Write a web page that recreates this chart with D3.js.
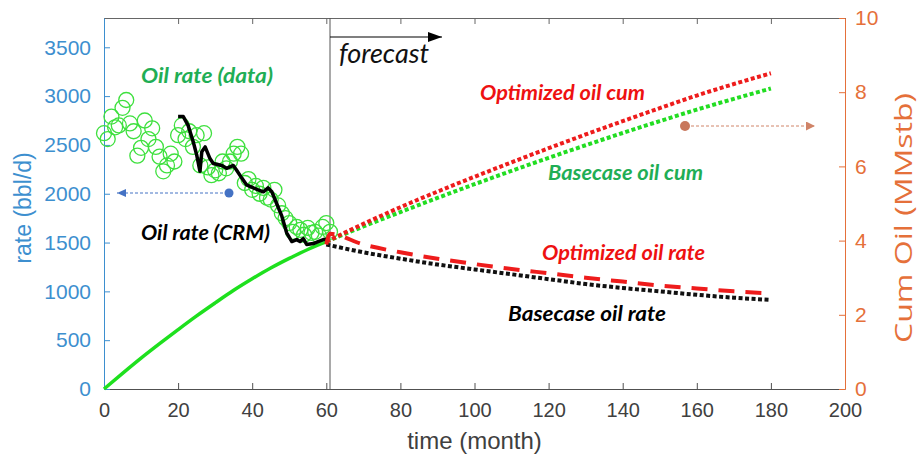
<!DOCTYPE html>
<html>
<head>
<meta charset="utf-8">
<script src="https://cdn.jsdelivr.net/npm/d3@7"></script>
<style>
  html, body { margin: 0; padding: 0; background: #fff; }
  svg { display: block; }
  .lbl { font-family: Lato, "Open Sans", sans-serif; font-weight: 700; font-style: italic; }
  .tick text { font-family: "Liberation Sans", Arial, sans-serif; }
</style>
</head>
<body>
<svg id="chart" width="920" height="455"></svg>
<script>
// Observed monthly oil rate (bbl/d)
const obsMonth = [0,1,2,3,4,5,6,7,8,9,10,11,12,13,14,15,16,17,18,19,20,21,22,23,24,25,26,27,28,29,30,
  31,32,33,34,35,36,37,38,39,40,41,42,43,44,45,46,47,48,49,50,51,52,53,54,55,56,57,58,59,60,61];
const obsRate = [2620,2560,2790,2680,2700,2880,2960,2720,2640,2390,2470,2750,2560,2670,2480,2380,2230,2290,2410,2330,
  2600,2700,2560,2640,2480,2600,2290,2620,2270,2190,2240,2210,2330,2260,2330,2410,2480,2410,2110,2150,
  2040,2080,2000,2060,1960,1940,2040,1880,1800,1750,1700,1610,1660,1630,1580,1650,1600,1610,1570,1660,1700,1610];

// CRM history-matched oil rate (bbl/d)
const crmMonth = [20.0,21.4,22.7,24.1,25.0,25.9,26.4,27.3,28.6,29.5,31.8,33.1,34.9,35.8,37.2,38.5,40.3,41.6,
  43.0,44.3,45.3,46.6,48.0,49.3,50.7,52.0,52.9,53.8,54.7,56.5,57.8,59.2,60.5];
const crmRate = [2790,2790,2700,2530,2400,2230,2430,2480,2360,2310,2290,2260,2290,2240,2160,2090,2060,2040,
  2020,2060,2020,1900,1770,1600,1510,1530,1510,1540,1480,1490,1510,1530,1530];

// Historical cumulative oil (MMstb)
const histCumMonth = [0,5,10,15,20,25,30,35,40,45,50,55,60];
const histCum = [0,0.42,0.83,1.22,1.60,1.97,2.32,2.66,2.97,3.26,3.52,3.76,3.97];

// Forecast period
const fcMonth = [60,70,80,90,100,110,120,130,140,150,160,170,180];
const baseRate = [1480,1400,1335,1275,1225,1175,1125,1075,1035,1000,965,935,912];
const baseCum = [3.97,4.38,4.77,5.15,5.52,5.88,6.23,6.57,6.90,7.22,7.53,7.82,8.10];
const optCum = [3.97,4.45,4.90,5.32,5.72,6.11,6.49,6.86,7.22,7.57,7.91,8.22,8.51];
const optRateMonth = [60,61,70,80,90,100,110,120,130,140,150,160,170,180];
const optRate = [1480,1590,1480,1400,1335,1280,1230,1185,1140,1100,1060,1030,1000,980];

// Axis ticks
const xTicks = [0,20,40,60,80,100,120,140,160,180,200];
const rateTicks = [0,500,1000,1500,2000,2500,3000,3500];
const cumTicks = [0,2,4,6,8,10];
const forecastStart = 61;

const svg = d3.select("#chart");
const L = 104, R = 845, T = 18, B = 389;
const blue = "#3d8fcf", orange = "#e5703a", grey = "#505050";

const x = d3.scaleLinear().domain([0, 200]).range([L, R]);
const yL = d3.scaleLinear().domain([0, 3800]).range([B, T]);
const yR = d3.scaleLinear().domain([0, 10]).range([B, T]);

// Top border with inward ticks
svg.append("g").attr("transform", `translate(0,${T})`)
  .call(d3.axisTop(x).tickValues(xTicks).tickSizeInner(-6).tickSizeOuter(0).tickFormat(""))
  .call(g => g.selectAll("path,line").attr("stroke", "#666"));

// Bottom axis
svg.append("g").attr("transform", `translate(0,${B})`)
  .call(d3.axisBottom(x).tickValues(xTicks).tickSizeInner(-6).tickSizeOuter(0).tickPadding(14))
  .call(g => g.selectAll("path,line").attr("stroke", grey))
  .call(g => g.selectAll("text").attr("fill", "#404040").attr("font-size", 20));

// Left axis (rate)
svg.append("g").attr("transform", `translate(${L},0)`)
  .call(d3.axisLeft(yL).tickValues(rateTicks).tickSizeInner(-6).tickSizeOuter(0).tickPadding(13).tickFormat(d3.format("d")))
  .call(g => g.selectAll("path,line").attr("stroke", blue))
  .call(g => g.selectAll("text").attr("fill", blue).attr("font-size", 21));

// Right axis (cumulative)
svg.append("g").attr("transform", `translate(${R},0)`)
  .call(d3.axisRight(yR).tickValues(cumTicks).tickSizeInner(-6).tickSizeOuter(0).tickPadding(10))
  .call(g => g.selectAll("path,line").attr("stroke", orange))
  .call(g => g.selectAll("text").attr("fill", orange).attr("font-size", 21));

// Axis titles
svg.append("text").attr("x", x(100)).attr("y", 449).attr("text-anchor", "middle")
  .attr("font-family", "'Liberation Sans', Arial, sans-serif").attr("font-size", 24).attr("fill", "#404040")
  .text("time (month)");
svg.append("text").attr("transform", `translate(31,208) rotate(-90)`).attr("text-anchor", "middle")
  .attr("font-family", "'Liberation Sans', Arial, sans-serif").attr("font-size", 23).attr("fill", blue)
  .text("rate (bbl/d)");
svg.append("text").attr("transform", `translate(912,218) rotate(-90)`).attr("text-anchor", "middle")
  .attr("font-family", "'Open Sans', sans-serif").attr("font-size", 23).attr("fill", orange)
  .attr("textLength", 250).attr("lengthAdjust", "spacingAndGlyphs")
  .text("Cum Oil (MMstb)");

// Forecast divider
svg.append("line").attr("x1", x(forecastStart)).attr("x2", x(forecastStart)).attr("y1", T).attr("y2", B)
  .attr("stroke", "#555").attr("stroke-width", 1);

const line = (xs, ys, sx, sy) => d3.line().curve(d3.curveMonotoneX)
  .x((d, i) => sx(xs[i])).y((d, i) => sy(ys[i]))(ys);

// Historical cumulative
svg.append("path").attr("d", line(histCumMonth, histCum, x, yR))
  .attr("fill", "none").attr("stroke", "#1ee01e").attr("stroke-width", 3.5);

// Observed rate markers
svg.append("g").selectAll("circle").data(obsRate).join("circle")
  .attr("cx", (d, i) => x(obsMonth[i])).attr("cy", d => yL(d)).attr("r", 7.5)
  .attr("fill", "none").attr("stroke", "#3ee03e").attr("stroke-width", 1.3);

// CRM rate
svg.append("path").attr("d", d3.line().x((d, i) => x(crmMonth[i])).y(d => yL(d))(crmRate))
  .attr("fill", "none").attr("stroke", "#000").attr("stroke-width", 3.5).attr("stroke-linejoin", "round");

// Forecast curves
svg.append("path").attr("d", line(fcMonth, baseCum, x, yR))
  .attr("fill", "none").attr("stroke", "#22dd22").attr("stroke-width", 4).attr("stroke-dasharray", "4,2.5");
svg.append("path").attr("d", line(fcMonth, optCum, x, yR))
  .attr("fill", "none").attr("stroke", "#ee1c1c").attr("stroke-width", 4).attr("stroke-dasharray", "4,2.5");
svg.append("path").attr("d", line(fcMonth, baseRate, x, yL))
  .attr("fill", "none").attr("stroke", "#111").attr("stroke-width", 4).attr("stroke-dasharray", "4,2.5");
svg.append("path").attr("d", line(optRateMonth, optRate, x, yL))
  .attr("fill", "none").attr("stroke", "#ee1c1c").attr("stroke-width", 4).attr("stroke-dasharray", "16,11");

// Arrow markers
const defs = svg.append("defs");
function marker(id, color, w, h) {
  defs.append("marker").attr("id", id).attr("viewBox", `0 0 ${w} ${h}`).attr("refX", w).attr("refY", h / 2)
    .attr("markerWidth", w).attr("markerHeight", h).attr("markerUnits", "userSpaceOnUse").attr("orient", "auto")
    .append("path").attr("d", `M0,0L${w},${h / 2}L0,${h}Z`).attr("fill", color);
}
marker("arrBlack", "#000", 14, 10);
marker("arrBlue", "#4472c4", 9, 8);
marker("arrOrange", "#d08468", 9, 9);

// Forecast arrow and label
svg.append("line").attr("x1", x(forecastStart)).attr("x2", 442).attr("y1", 37).attr("y2", 37)
  .attr("stroke", "#000").attr("stroke-width", 1.2).attr("marker-end", "url(#arrBlack)");
svg.append("text").attr("x", 339).attr("y", 63).attr("font-family", "Lato, sans-serif").attr("font-style", "italic")
  .attr("font-size", 27).attr("fill", "#111").text("forecast");

// Axis pointer arrows
svg.append("line").attr("x1", 228).attr("x2", 117).attr("y1", 193).attr("y2", 193)
  .attr("stroke", "#4472c4").attr("stroke-width", 1).attr("stroke-dasharray", "3,2").attr("marker-end", "url(#arrBlue)");
svg.append("circle").attr("cx", 229).attr("cy", 193).attr("r", 4.5).attr("fill", "#4472c4");
svg.append("line").attr("x1", 686).attr("x2", 815).attr("y1", 126).attr("y2", 126)
  .attr("stroke", "#d08468").attr("stroke-width", 1).attr("stroke-dasharray", "3,2").attr("marker-end", "url(#arrOrange)");
svg.append("circle").attr("cx", 685).attr("cy", 126).attr("r", 5).attr("fill", "#c8775c");

// Series annotations: text, x, baseline y, colour, drawn width
const notes = [
  ["Oil rate (data)", 141, 83, "#1fae55", 132],
  ["Oil rate (CRM)", 141, 240, "#000", 129],
  ["Optimized oil cum", 480, 100, "#ee1111", 165],
  ["Basecase oil cum", 548, 180, "#1fae55", 155],
  ["Optimized oil rate", 542, 260, "#ee1111", 163],
  ["Basecase oil rate", 508, 321, "#000", 158]
];
svg.append("g").selectAll("text").data(notes).join("text").attr("class", "lbl")
  .attr("x", d => d[1]).attr("y", d => d[2]).attr("fill", d => d[3]).attr("font-size", 20)
  .attr("textLength", d => d[4]).attr("lengthAdjust", "spacingAndGlyphs").text(d => d[0]);
</script>
</body>
</html>
